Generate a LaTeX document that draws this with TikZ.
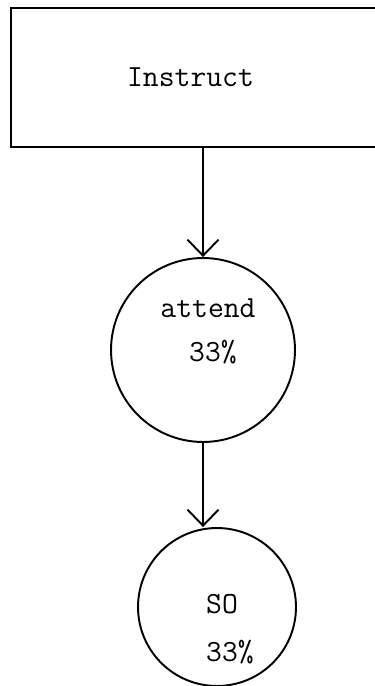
\documentclass[tikz,border=0pt]{standalone}
\usetikzlibrary{arrows.meta}

\tikzset{
  typed/.style={font=\fontsize{17.5}{20}\selectfont\ttfamily},
  stagebox/.style={draw, line width=1.5pt, minimum width=7.58cm, minimum height=2.78cm},
  stagecirc/.style={draw, circle, line width=1.1pt, inner sep=0pt},
  flow/.style={line width=1.1pt, -{Straight Barb[length=0.32cm, width=0.62cm, line width=1.1pt]}},
}

\begin{document}
\begin{tikzpicture}[x=0.02cm, y=-0.02cm]
  \useasboundingbox (0,0) rectangle (375,686);
  \clip (0,0) rectangle (375,686);

  \node[stagebox, label={[typed, xshift=-0.2cm]center:Instruct}] (instruct) at (200.5,77.5) {};
  \node[stagecirc, minimum size=3.68cm,
        label={[typed, align=center, xshift=0.1cm, yshift=0.38cm]center:attend\\[5pt]\hspace*{0.2cm}33\%}] (attend) at (203,350) {};
  \node[stagecirc, minimum size=3.16cm,
        label={[typed, align=left, xshift=0.26cm, yshift=-0.44cm]center:SO\\[7pt]33\%}] (so) at (217,607) {};

  \draw[flow] (attend.north |- instruct.south) -- (attend.north);
  \draw[flow] (attend.south) -- (attend.south |- so.north);
\end{tikzpicture}
\end{document}
